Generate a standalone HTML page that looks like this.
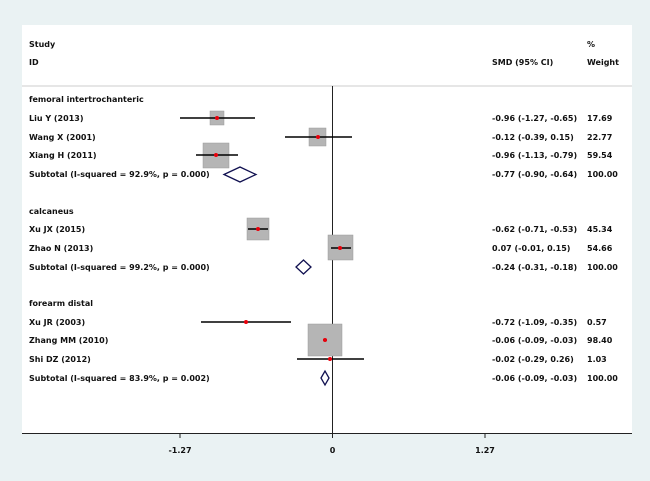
<!DOCTYPE html>
<html><head><style>
html,body{margin:0;padding:0;background:#eaf2f3;}
svg{display:block;}
text{font-family:"DejaVu Sans","Liberation Sans",sans-serif;font-weight:bold;font-size:8px;fill:#111;}
</style></head><body>
<svg width="650" height="481" viewBox="0 0 650 481">
<rect x="0" y="0" width="650" height="481" fill="#eaf2f3"/>
<rect x="22" y="25" width="610" height="408" fill="#fff"/>
<line x1="22" y1="86" x2="632" y2="86" stroke="#ccc" stroke-width="1"/>
<line x1="332.5" y1="86" x2="332.5" y2="433" stroke="#222" stroke-width="1"/>
<line x1="22" y1="433.5" x2="632" y2="433.5" stroke="#222" stroke-width="1"/>
<g stroke="#222"><line x1="180" y1="433" x2="180" y2="438"/><line x1="332.5" y1="433" x2="332.5" y2="438"/><line x1="485" y1="433" x2="485" y2="438"/></g>
<text x="180" y="453" text-anchor="middle">-1.27</text>
<text x="332.5" y="453" text-anchor="middle">0</text>
<text x="485" y="453" text-anchor="middle">1.27</text>

<text x="29" y="47">Study</text>
<text x="29" y="65">ID</text>
<text x="587" y="47">%</text>
<text x="492" y="65">SMD (95% CI)</text>
<text x="587" y="65">Weight</text>

<g>
<text x="29" y="102">femoral intertrochanteric</text>
<text x="29" y="121">Liu Y (2013)</text>
<text x="29" y="140">Wang X (2001)</text>
<text x="29" y="158">Xiang H (2011)</text>
<text x="29" y="177">Subtotal  (I-squared = 92.9%, p = 0.000)</text>
<text x="29" y="214">calcaneus</text>
<text x="29" y="232">Xu JX (2015)</text>
<text x="29" y="251">Zhao N (2013)</text>
<text x="29" y="270">Subtotal  (I-squared = 99.2%, p = 0.000)</text>
<text x="29" y="306">forearm distal</text>
<text x="29" y="325">Xu JR (2003)</text>
<text x="29" y="343">Zhang MM (2010)</text>
<text x="29" y="362">Shi DZ (2012)</text>
<text x="29" y="381">Subtotal  (I-squared = 83.9%, p = 0.002)</text>
</g>
<g>
<text x="492" y="121">-0.96 (-1.27, -0.65)</text><text x="587" y="121">17.69</text>
<text x="492" y="140">-0.12 (-0.39, 0.15)</text><text x="587" y="140">22.77</text>
<text x="492" y="158">-0.96 (-1.13, -0.79)</text><text x="587" y="158">59.54</text>
<text x="492" y="177">-0.77 (-0.90, -0.64)</text><text x="587" y="177">100.00</text>
<text x="492" y="232">-0.62 (-0.71, -0.53)</text><text x="587" y="232">45.34</text>
<text x="492" y="251">0.07 (-0.01, 0.15)</text><text x="587" y="251">54.66</text>
<text x="492" y="270">-0.24 (-0.31, -0.18)</text><text x="587" y="270">100.00</text>
<text x="492" y="325">-0.72 (-1.09, -0.35)</text><text x="587" y="325">0.57</text>
<text x="492" y="343">-0.06 (-0.09, -0.03)</text><text x="587" y="343">98.40</text>
<text x="492" y="362">-0.02 (-0.29, 0.26)</text><text x="587" y="362">1.03</text>
<text x="492" y="381">-0.06 (-0.09, -0.03)</text><text x="587" y="381">100.00</text>
</g>

<g fill="#b5b5b5" stroke="#9a9a9a" stroke-width="0.5">
<rect x="210" y="111" width="14" height="14"/>
<rect x="309" y="128" width="17" height="18"/>
<rect x="203" y="143" width="26" height="25"/>
<rect x="247" y="218" width="22" height="22"/>
<rect x="328" y="235" width="25" height="25"/>
<rect x="308" y="324" width="34" height="32"/>
</g>
<g stroke="#000" stroke-width="1.5">
<line x1="180" y1="118" x2="255" y2="118"/>
<line x1="285" y1="137" x2="352" y2="137"/>
<line x1="196" y1="155" x2="238" y2="155"/>
<line x1="248" y1="229" x2="268" y2="229"/>
<line x1="331" y1="248" x2="351" y2="248"/>
<line x1="201" y1="322" x2="291" y2="322"/>
<line x1="323" y1="340" x2="327" y2="340"/>
<line x1="297" y1="359" x2="364" y2="359"/>
</g>
<g fill="#e8000b">
<circle cx="217" cy="118" r="2"/><circle cx="318" cy="137" r="2"/><circle cx="216" cy="155" r="2"/>
<circle cx="258" cy="229" r="2"/><circle cx="340" cy="248" r="2"/>
<circle cx="246" cy="322" r="2"/><circle cx="325" cy="340" r="2"/><circle cx="330" cy="359" r="2"/>
</g>
<g fill="none" stroke="#101050" stroke-width="1.3">
<polygon points="224,174.5 240,167 256,174.5 240,182"/>
<polygon points="296,267 303.5,260 311,267 303.5,274"/>
<polygon points="321,378 325,371 329,378 325,385"/>
</g>
</svg>
</body></html>
